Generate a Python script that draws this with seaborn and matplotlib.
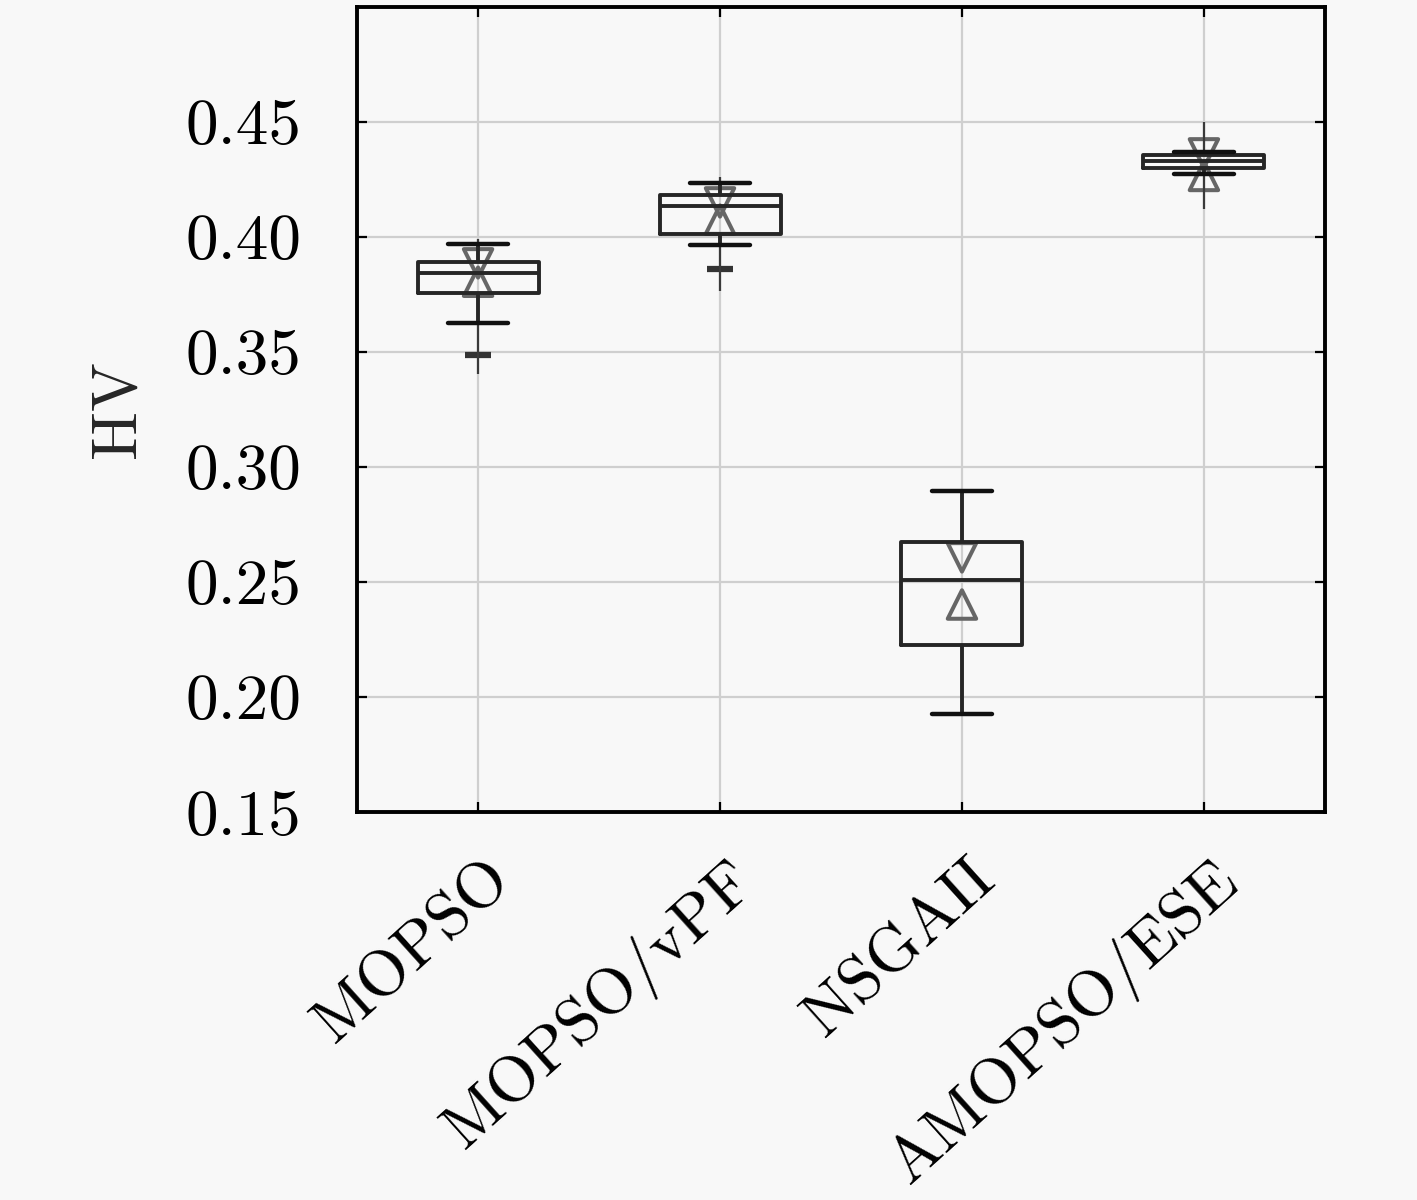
import matplotlib
matplotlib.use("Agg")
import matplotlib.pyplot as plt
import matplotlib.transforms as mtransforms
import pandas as pd
import seaborn as sns

# values
algorithms = ["MOPSO", "MOPSO/vPF", "NSGAII", "AMOPSO/ESE"]
whisker_lo = [0.3624, 0.3966, 0.1927, 0.4273]
q1 = [0.3756, 0.4013, 0.2227, 0.4299]
median = [0.3845, 0.4135, 0.2509, 0.4330]
q3 = [0.3893, 0.4180, 0.2675, 0.4355]
whisker_hi = [0.3970, 0.4235, 0.2897, 0.4367]
notch_hi = [0.3885, 0.4150, 0.2607, 0.4363]
notch_lo = [0.3805, 0.4075, 0.2402, 0.4265]
extreme_lo = [0.3402, 0.3765, 0.1927, 0.4120]
extreme_hi = [0.3990, 0.4260, 0.2897, 0.4500]
outlier_alg = ["MOPSO", "MOPSO/vPF"]
outlier_hv = [0.3487, 0.3859]
yticks = [0.15, 0.20, 0.25, 0.30, 0.35, 0.40, 0.45]

rows = []
ext_rows = []
for i, alg in enumerate(algorithms):
    for v in (whisker_lo[i], q1[i], median[i], q3[i], whisker_hi[i]):
        rows.append((alg, v))
    for v in (extreme_lo[i], q1[i], median[i], q3[i], extreme_hi[i]):
        ext_rows.append((alg, v))
box_df = pd.DataFrame(rows, columns=["algorithm", "HV"])
ext_df = pd.DataFrame(ext_rows, columns=["algorithm", "HV"])

sns.set_style("ticks")
plt.rcParams["font.family"] = ["cmr10", "DejaVu Serif"]
plt.rcParams["axes.formatter.use_mathtext"] = True

bg = "#f8f8f8"
fig = plt.figure(figsize=(14.17, 12), dpi=100, facecolor=bg)
ax = fig.add_axes([0.252, 0.3233, 0.683, 0.671])
ax.set_facecolor(bg)

# thin lines out to the far points
sns.boxplot(data=ext_df, x="algorithm", y="HV", order=algorithms,
            whis=(0, 100), width=0.5, fill=False, color="#3a3a3a",
            linewidth=1.6, showfliers=False,
            boxprops={"visible": False}, medianprops={"visible": False},
            capprops={"visible": False}, ax=ax)

# main boxes
sns.boxplot(data=box_df, x="algorithm", y="HV", order=algorithms,
            whis=(0, 100), width=0.5, fill=False, color="#262626",
            linewidth=2.8, showfliers=False,
            capprops={"color": "#111111", "linewidth": 3.2}, ax=ax)

# notch markers
sns.scatterplot(x=algorithms, y=notch_hi, marker="v", s=420,
                facecolor="none", edgecolor="#666666", linewidth=2.9, ax=ax)
sns.scatterplot(x=algorithms, y=notch_lo, marker="^", s=420,
                facecolor="none", edgecolor="#666666", linewidth=2.9, ax=ax)

# outliers
sns.scatterplot(x=outlier_alg, y=outlier_hv, marker="_", s=330,
                color="#333333", linewidth=4.5, ax=ax)

ax.grid(True, color="#cfcfcf", linewidth=1.6)
ax.set_axisbelow(True)

ax.set_xlim(-0.5, 3.5)
ax.set_ylim(0.15, 0.50)
ax.set_yticks(yticks)
ax.set_yticklabels([f"{t:.2f}" for t in yticks])
ax.set_xticks(range(len(algorithms)))
ax.set_xticklabels(algorithms)

ax.tick_params(axis="both", direction="in", length=7, width=1.6,
               top=True, right=True, labelsize=47, colors="black")
ax.tick_params(axis="y", pad=40)
ax.tick_params(axis="x", pad=27, labelsize=47)
shift = mtransforms.ScaledTranslation(4 / 72, 0, fig.dpi_scale_trans)
for lab in ax.get_xticklabels():
    lab.set_rotation(42)
    lab.set_ha("right")
    lab.set_va("top")
    lab.set_rotation_mode("anchor")
    lab.set_transform(lab.get_transform() + shift)

for s in ax.spines.values():
    s.set_linewidth(2.8)
    s.set_color("black")

ax.set_xlabel("")
ax.set_ylabel("HV", fontsize=47, labelpad=27)

fig.savefig("out.png", dpi=100, facecolor=bg)
